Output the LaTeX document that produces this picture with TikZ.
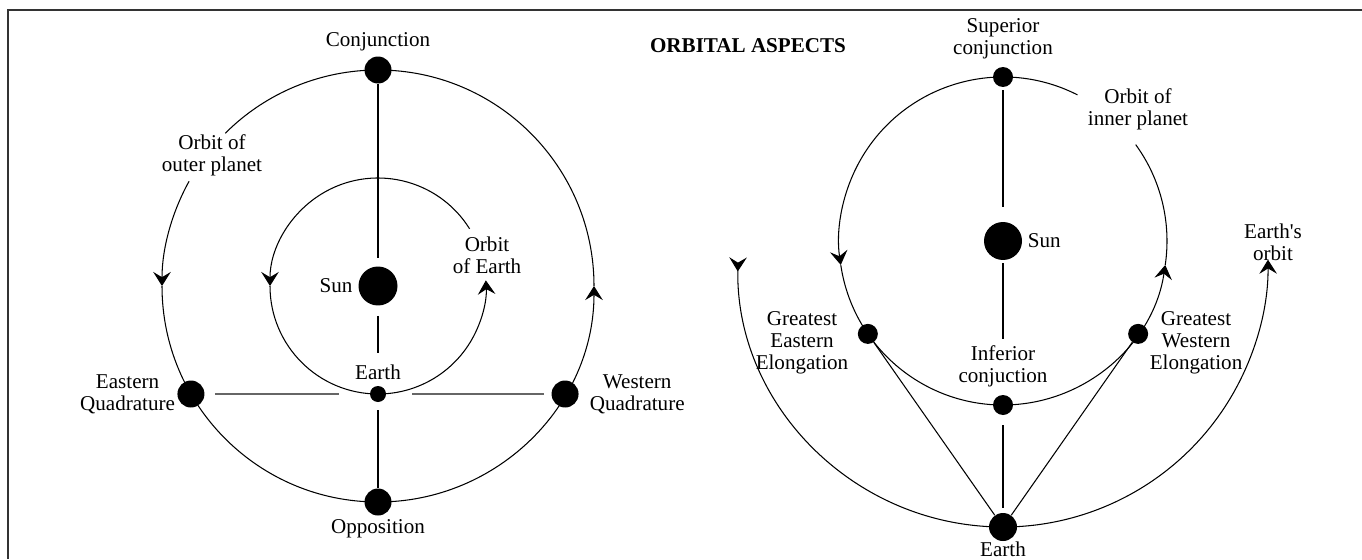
\documentclass[tikz,border=0pt]{standalone}
\usepackage{fontspec}
\setmainfont{Liberation Serif}
\usetikzlibrary{arrows.meta, positioning}

\begin{document}
\begin{tikzpicture}[x=0.02cm, y=0.02cm, >={Stealth[length=8pt,width=10pt,inset=3pt]},
        planet/.style={circle, fill=black, inner sep=0pt, minimum size=0.54cm},
        smallplanet/.style={circle, fill=black, inner sep=0pt, minimum size=0.4cm},
        sunball/.style={circle, fill=black, inner sep=0pt, minimum size=0.78cm},
        earthdot/.style={circle, fill=black, inner sep=0pt, minimum size=#1},
        lbl/.style={align=center, inner sep=1pt, font=\fontsize{12}{12.5}\selectfont},
        orbit/.style={line width=0.6pt},
        conn/.style={line width=0.6pt}
    ]
        \useasboundingbox (0,0) rectangle (1362,559);
        \draw[line width=1.7pt, black!80] (8,0) -- (8,549) -- (1362,549);

        % Nodes (outer planet)
        \coordinate (cA) at (378,273);
        \node [sunball] (sunA) at (cA) {};
        \node [planet] (conjA) at ([shift={(90:216)}]cA) {};
        \node [planet] (oppA) at ([shift={(270:216)}]cA) {};
        \node [planet] (eqA) at ([shift={(210:216)}]cA) {};
        \node [planet] (wqA) at ([shift={(330:216)}]cA) {};
        \node [earthdot=0.32cm] (earthA) at ([shift={(270:108)}]cA) {};

        \node [lbl, above=2pt of conjA] (conjlbl) {Conjunction};
        \node [lbl, below=1pt of oppA] (opplbl) {Opposition};
        \node [lbl, left=0pt of eqA] (eqlbl) {Eastern\\Quadrature};
        \node [lbl, right=5pt of wqA] (wqlbl) {Western\\Quadrature};
        \node [lbl, left=2pt of sunA] (sunlblA) {Sun};
        \node [lbl, above=2pt of earthA] (earthlblA) {Earth};
        \node [lbl] (outerlbl) at (212,404) {Orbit of\\outer planet};
        \node [lbl] (earthorblbl) at (487,304) {Orbit\\of Earth};
        \node [lbl, font=\fontsize{12}{12.5}\selectfont\bfseries] (title) at (748,513) {ORBITAL ASPECTS};

        % Orbits
        \draw[orbit, ->] ([shift={(151:216)}]cA) arc[start angle=151, end angle=180, radius=216];
        \draw[orbit, ->] ([shift={(180:216)}]cA) arc[start angle=180, end angle=360, radius=216];
        \draw[orbit] ([shift={(0:216)}]cA) arc[start angle=0, end angle=135, radius=216];
        \draw[orbit, ->] ([shift={(32:108)}]cA) arc[start angle=32, end angle=180, radius=108];
        \draw[orbit, ->] ([shift={(180:108)}]cA) arc[start angle=180, end angle=363, radius=108];

        % Connectors
        \draw[conn, shorten >=0.16cm] (conjA) -- (sunA);
        \draw[conn, shorten <=0.2cm, shorten >=0.2cm] (sunA) -- (earthlblA);
        \draw[conn, shorten <=0.16cm] (earthA) -- (oppA);
        \draw[conn, black!60, shorten <=0.2cm, shorten >=0.62cm] (eqA) -- (earthA);
        \draw[conn, black!60, shorten <=0.14cm, shorten >=0.52cm] (wqA) -- (earthA);

        % Nodes (inner planet)
        \coordinate (cB) at (1003,318);
        \coordinate (cE) at (1003,297);
        \node [sunball, minimum size=0.76cm] (sunB) at (cB) {};
        \node [smallplanet] (supB) at ([shift={(90:164)}]cB) {};
        \node [smallplanet] (infB) at ([shift={(270:164)}]cB) {};
        \node [smallplanet] (eastB) at ([shift={(214.5:164)}]cB) {};
        \node [smallplanet] (westB) at ([shift={(325.5:164)}]cB) {};
        \node [earthdot=0.56cm] (earthB) at ([shift={(270:265)}]cE) {};

        \node [lbl, above=3pt of supB] (suplbl) {Superior\\conjunction};
        \node [lbl, above=3pt of infB] (inflbl) {Inferior\\conjuction};
        \node [lbl, right=2pt of sunB] (sunlblB) {Sun};
        \node [lbl, below=-1pt of earthB] (earthlblB) {Earth};
        \node [lbl] (innerlbl) at (1138,450) {Orbit of\\inner planet};
        \node [lbl] (eastlbl) at (802,216) {Greatest\\Eastern\\Elongation};
        \node [lbl] (westlbl) at (1196,216) {Greatest\\Western\\Elongation};
        \node [lbl] (earthorbB) at (1273,317) {Earth\textquotesingle s\\orbit};

        % Orbits
        \draw[orbit, ->] ([shift={(63:164)}]cB) arc[start angle=63, end angle=188.4, radius=164];
        \draw[orbit, ->] ([shift={(188.4:164)}]cB) arc[start angle=188.4, end angle=351.6, radius=164];
        \draw[orbit] ([shift={(-8.4:164)}]cB) arc[start angle=-8.4, end angle=36, radius=164];
        \draw[orbit, {Stealth[reversed,length=8pt,width=10pt,inset=3pt]}->] ([shift={(179:265)}]cE) arc[start angle=179, end angle=360.5, radius=265];

        % Connectors
        \draw[conn, shorten <=0.06cm, shorten >=0.3cm] (supB) -- (sunB);
        \draw[conn, shorten <=0.06cm, shorten >=0.1cm] (sunB) -- (inflbl);
        \draw[conn, shorten <=0.2cm, shorten >=0.1cm] (infB) -- (earthB);
        \draw[conn] (earthB) -- (eastB);
        \draw[conn] (earthB) -- (westB);
    \end{tikzpicture}
\end{document}
